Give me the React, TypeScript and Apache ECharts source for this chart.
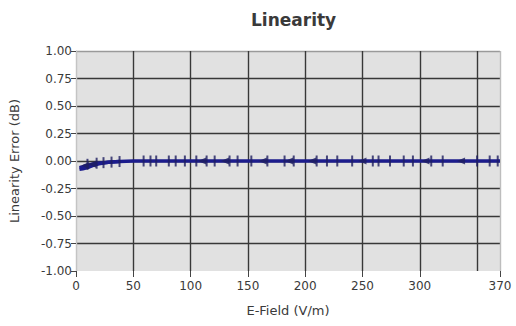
import React, { useEffect, useRef } from "react";
import * as echarts from "echarts";

const titleText = "Linearity";
const xAxisName = "E-Field (V/m)";
const yAxisName = "Linearity Error (dB)";

const xLabelValues = [0, 50, 100, 150, 200, 250, 300, 370];

// main trace
const lineField = [3, 5, 8, 10, 14, 18, 24, 31, 38, 50, 75, 100, 150, 200, 250, 300, 350, 370];
const lineError = [-0.06, -0.055, -0.045, -0.04, -0.03, -0.02, -0.015, -0.01, -0.005, 0, 0, 0, 0, 0, 0, 0, 0, 0];
// lower envelope near start
const lowField = [3, 6, 10, 15, 20, 28, 38];
const lowError = [-0.075, -0.07, -0.06, -0.04, -0.025, -0.012, -0.005];

// vertical tick markers
const tickField = [10, 18, 24, 31, 38, 59, 65, 70, 81, 87, 95, 105, 114, 121, 134, 141, 153, 167, 182, 190, 210, 219, 228, 241, 259, 264, 274, 286, 294, 310, 320, 350, 361, 368];
const tickError = [-0.03, -0.02, -0.015, -0.01, -0.005, 0, 0, 0, 0, 0, 0, 0, 0, 0, 0, 0, 0, 0, 0, 0, 0, 0, 0, 0, 0, 0, 0, 0, 0, 0, 0, 0, 0, 0];

// left-pointing triangle markers
const triField = [8, 14, 110, 130, 163, 186, 206, 250, 305, 336];
const triError = [-0.04, -0.03, 0, 0, 0, 0, 0, 0, 0, 0];

const FONT = "DejaVu Sans";
const NAVY = "#1c1c8c";

export default function App() {
  const ref = useRef<HTMLDivElement>(null);
  useEffect(() => {
    if (!ref.current) return;
    const chart = echarts.init(ref.current, undefined, { renderer: "svg" });
    const dark = "#383838";
    chart.setOption({
      animation: false,
      backgroundColor: "#ffffff",
      title: {
        text: titleText,
        left: 246,
        top: 6,
        textStyle: { fontFamily: FONT, fontSize: 17, fontWeight: "bold", color: "#3a3a3a" },
      },
      grid: {
        left: 76,
        right: 16,
        top: 51,
        bottom: 55,
        show: true,
        backgroundColor: "#e1e1e1",
        borderWidth: 0,
      },
      xAxis: [
        {
          type: "value",
          min: 0,
          max: 370,
          interval: 50,
          position: "bottom",
          axisLine: { show: false },
          axisTick: { show: false },
          axisLabel: { show: false },
          splitLine: {
            show: true,
            lineStyle: { color: ["#bdbdbd", dark, dark, dark, dark, dark, dark, dark], width: 1.4 },
          },
        },
        {
          type: "value",
          min: 0,
          max: 370,
          position: "bottom",
          name: xAxisName,
          nameLocation: "middle",
          nameGap: 33,
          nameTextStyle: { fontFamily: FONT, fontSize: 13, color: "#3a3a3a" },
          axisLine: { show: false },
          axisTick: { show: true, length: 6, customValues: xLabelValues, lineStyle: { color: "#444" } },
          axisLabel: {
            show: true,
            customValues: xLabelValues,
            fontFamily: FONT,
            fontSize: 12,
            color: "#3a3a3a",
            margin: 9,
          },
          splitLine: { show: false },
        },
      ],
      yAxis: {
        type: "value",
        min: -1,
        max: 1,
        interval: 0.25,
        name: yAxisName,
        nameLocation: "middle",
        nameGap: 55,
        nameTextStyle: { fontFamily: FONT, fontSize: 13, color: "#3a3a3a" },
        axisLine: { show: true, lineStyle: { color: "#c4c4c4" } },
        axisTick: { show: true, length: 5, lineStyle: { color: "#444" } },
        axisLabel: {
          fontFamily: FONT,
          fontSize: 12,
          color: "#3a3a3a",
          margin: 4,
          formatter: (v: number) => v.toFixed(2),
        },
        splitLine: {
          show: true,
          lineStyle: {
            color: ["rgba(0,0,0,0)", dark, dark, dark, dark, dark, dark, dark, "#9a9a9a"],
            width: 1.4,
          },
        },
      },
      series: [
        {
          type: "line",
          xAxisIndex: 0,
          data: lowField.map((f, i) => [f, lowError[i]]),
          showSymbol: false,
          lineStyle: { color: NAVY, width: 3.5 },
          z: 3,
        },
        {
          type: "line",
          xAxisIndex: 0,
          data: lineField.map((f, i) => [f, lineError[i]]),
          showSymbol: false,
          lineStyle: { color: NAVY, width: 3.5 },
          z: 3,
        },
        {
          type: "scatter",
          xAxisIndex: 0,
          data: tickField.map((f, i) => [f, tickError[i]]),
          symbol: "rect",
          symbolSize: [2, 11],
          itemStyle: { color: "#1e1e60" },
          z: 4,
        },
        {
          type: "scatter",
          xAxisIndex: 0,
          data: triField.map((f, i) => [f, triError[i]]),
          symbol: "triangle",
          symbolSize: [7, 8],
          symbolRotate: 90,
          itemStyle: { color: "#1e1e60" },
          z: 4,
        },
      ],
    });
    return () => chart.dispose();
  }, []);
  return (
    <div
      ref={ref}
      style={{ position: "fixed", left: 0, top: 0, width: 516, height: 326 }}
    />
  );
}
